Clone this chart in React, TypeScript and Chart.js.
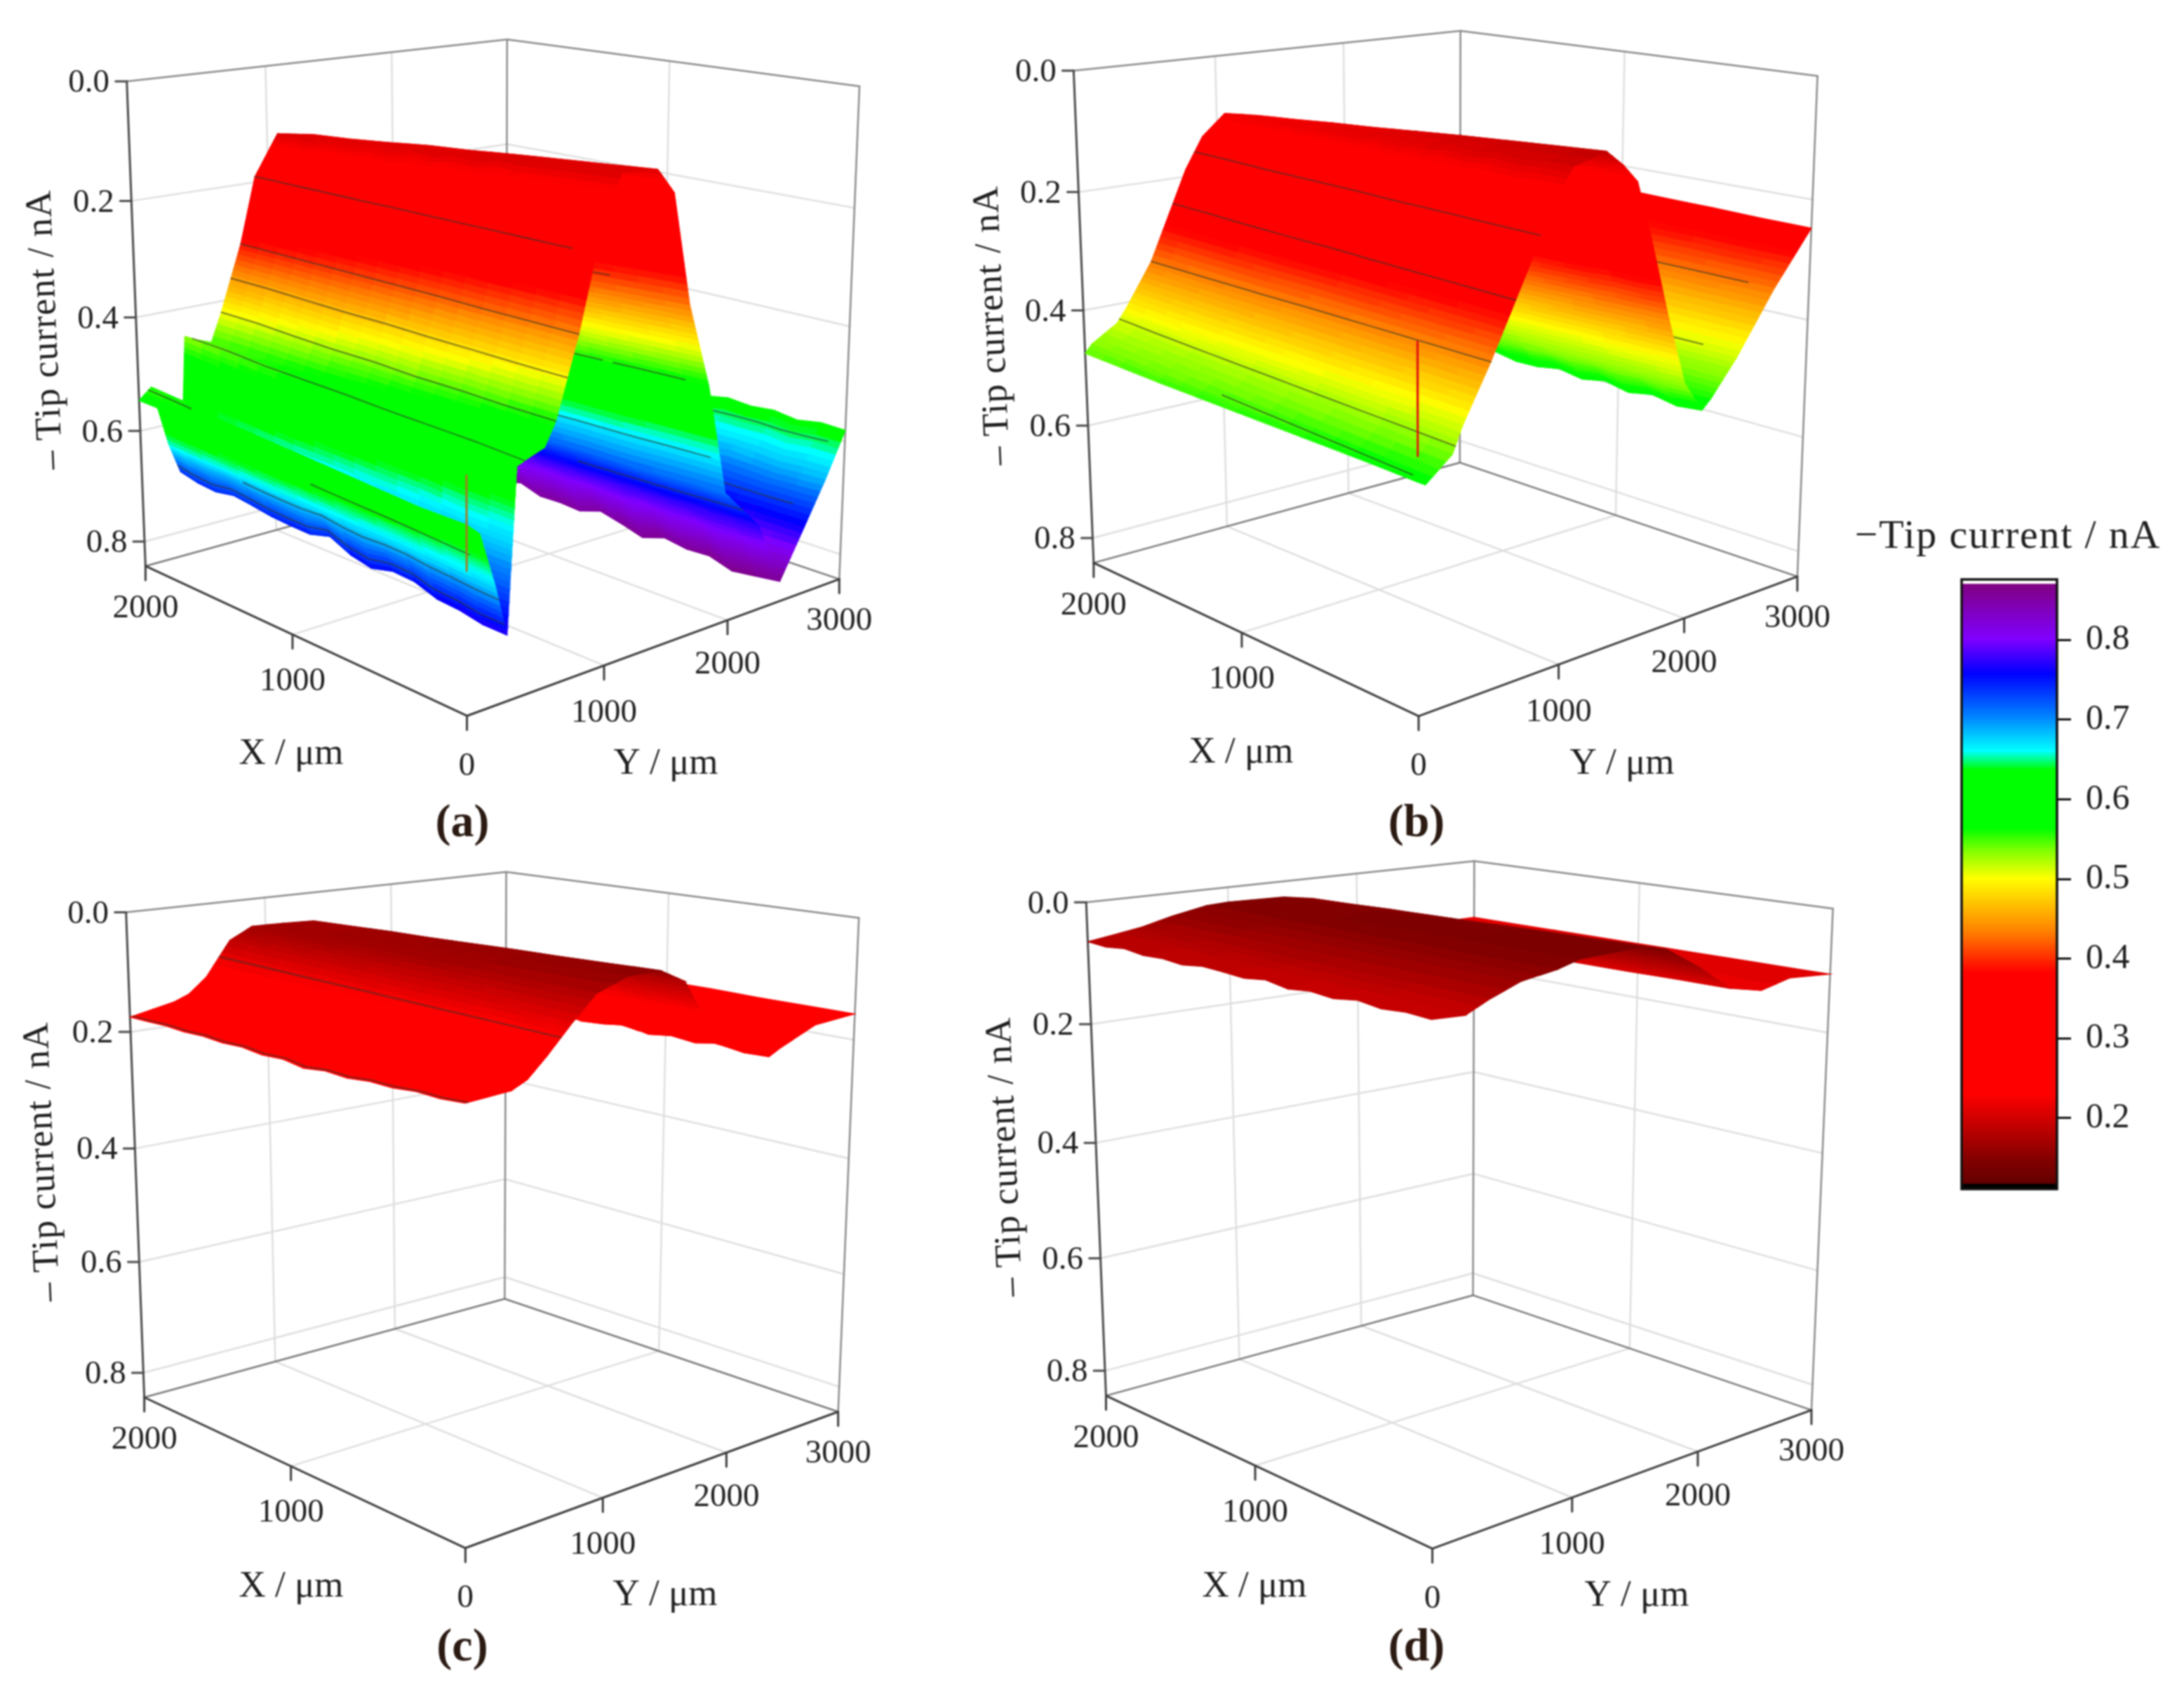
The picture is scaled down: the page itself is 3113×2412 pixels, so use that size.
import React, { useEffect, useRef } from "react";
import { Chart, registerables } from "chart.js";

Chart.register(...registerables);

// ---------- data ----------
const Z_MAX = 0.845;
const xRows = [0, 250, 500, 750, 1000, 1250, 1500, 1750, 2000];
const zTicks = [0, 0.2, 0.4, 0.6, 0.8];
const xTicks = [0, 1000, 2000];
const yTicks = [1000, 2000, 3000];
const colorTicks = [0.2, 0.3, 0.4, 0.5, 0.6, 0.7, 0.8];

const colorValues = [0.118, 0.145, 0.23, 0.382, 0.433, 0.5, 0.535, 0.563, 0.636, 0.66, 0.704, 0.757, 0.8, 0.87];
const colorRGB = [
  [100, 0, 0], [128, 0, 0], [255, 0, 0], [255, 0, 0], [255, 128, 0], [255, 255, 0], [128, 255, 0],
  [0, 255, 0], [0, 255, 0], [0, 255, 255], [0, 128, 255], [0, 0, 255], [128, 0, 255], [128, 0, 128],
];

const yColsA = [0, 90, 200, 280, 310, 345, 430, 540, 620, 780, 900, 1080, 1350, 1480, 1620, 1790, 1950, 2250, 2450, 2630, 2830, 3000];
const zRowsA = [
  [0.55, 0.57, 0.66, 0.74, 0.62, 0.483, 0.475, 0.466, 0.43, 0.306, 0.19, 0.075, 0.08, 0.12, 0.30, 0.438, 0.625, 0.70, 0.81, 0.738, 0.657, 0.58],
  [0.55, 0.565, 0.655, 0.735, 0.62, 0.48, 0.47, 0.466, 0.43, 0.306, 0.19, 0.08, 0.086, 0.126, 0.304, 0.44, 0.627, 0.703, 0.815, 0.738, 0.66, 0.582],
  [0.55, 0.56, 0.65, 0.715, 0.615, 0.475, 0.47, 0.468, 0.428, 0.306, 0.19, 0.086, 0.092, 0.132, 0.308, 0.443, 0.63, 0.705, 0.805, 0.742, 0.655, 0.58],
  [0.55, 0.555, 0.648, 0.72, 0.615, 0.47, 0.47, 0.468, 0.428, 0.305, 0.19, 0.09, 0.098, 0.138, 0.311, 0.446, 0.63, 0.708, 0.81, 0.74, 0.66, 0.585],
  [0.55, 0.55, 0.645, 0.70, 0.61, 0.47, 0.465, 0.468, 0.425, 0.305, 0.19, 0.098, 0.105, 0.145, 0.315, 0.45, 0.632, 0.71, 0.798, 0.738, 0.658, 0.587],
  [0.55, 0.545, 0.643, 0.71, 0.61, 0.465, 0.465, 0.47, 0.425, 0.305, 0.19, 0.105, 0.11, 0.15, 0.319, 0.452, 0.635, 0.712, 0.806, 0.742, 0.66, 0.585],
  [0.55, 0.54, 0.64, 0.695, 0.605, 0.46, 0.465, 0.47, 0.423, 0.305, 0.19, 0.11, 0.118, 0.157, 0.322, 0.455, 0.636, 0.715, 0.796, 0.74, 0.662, 0.588],
  [0.548, 0.532, 0.638, 0.70, 0.60, 0.455, 0.46, 0.47, 0.42, 0.305, 0.19, 0.115, 0.125, 0.164, 0.326, 0.457, 0.638, 0.718, 0.804, 0.74, 0.658, 0.59],
  [0.546, 0.527, 0.635, 0.69, 0.60, 0.45, 0.46, 0.47, 0.42, 0.305, 0.19, 0.12, 0.13, 0.17, 0.33, 0.46, 0.64, 0.72, 0.80, 0.74, 0.66, 0.59],
];
const colAdjA = [-0.05, -0.06, -0.065, -0.03, -0.02, 0, 0, 0, 0, 0, 0, 0, 0, 0, 0, 0, 0, 0, 0, -0.03, -0.05, -0.05];
const jagsA = [
  { col: 3, values: [0, 0.002, -0.003, 0.004, 0.001, -0.004, 0.003, 0.005, -0.002, 0.003, -0.003, 0.002, 0.004, -0.003, 0.001, 0.003, 0] },
  { col: 18, values: [0, 0.003, 0.006, -0.002, 0.005, -0.004, 0.007, 0.001, -0.003, 0.006, -0.001, 0.005, -0.003, 0.004, 0.002, -0.002, 0.003] },
  { col: 21, values: [0, -0.003, 0.003, -0.002, 0.003, -0.003, 0.002, -0.002, 0.002, 0, 0, 0, 0, 0, 0, 0, 0] },
  { col: 11, values: [0, 0, 0, 0, 0, -0.004, 0.003, -0.003, 0.002, -0.003, 0.003, -0.002, 0.002, 0, 0.003, -0.002, 0] },
];
const shiftZA = [0, 0.45, 0.65, 0.85];
const shiftNearA = [0.13, 0.13, 0.08, 0.04];
const shiftFarA = [0.09, 0.08, 0.085, 0.04];
const meshA = [
  { y: 900, from: 2000, to: 120 }, { y: 780, from: 2000, to: 0 }, { y: 700, from: 2000, to: 0 }, { y: 620, from: 2000, to: 0 },
  { y: 400, from: 2000, to: 0 }, { y: 150, from: 1000, to: 100 }, { y: 220, from: 1500, to: 0 }, { y: 70, from: 2000, to: 1700 },
  { y: 262, from: 2000, to: 0 }, { y: 1600, from: 900, to: 400 }, { y: 1790, from: 800, to: 560 }, { y: 1790, from: 500, to: 120 },
  { y: 1900, from: 900, to: 50 }, { y: 2100, from: 900, to: 0 }, { y: 2950, from: 800, to: 60 }, { y: 2720, from: 600, to: 100 }, { y: 2480, from: 400, to: 100 },
];
const spikesA = [{ X: 0, Y: 0, z0: 0.476, z1: 0.62, color: "#a87a20", width: 3 }];

const yColsB = [0, 50, 230, 300, 490, 760, 890, 1060, 1300, 1430, 1540, 1650, 1800, 1950, 2100, 2170, 2380, 2690, 3000];
const zRowsB = [
  [0.493, 0.50, 0.466, 0.427, 0.344, 0.213, 0.14, 0.08, 0.067, 0.092, 0.12, 0.205, 0.335, 0.452, 0.504, 0.49, 0.433, 0.333, 0.247],
  [0.49, 0.495, 0.462, 0.425, 0.343, 0.21, 0.14, 0.083, 0.072, 0.097, 0.124, 0.208, 0.337, 0.453, 0.505, 0.49, 0.433, 0.333, 0.246],
  [0.488, 0.49, 0.458, 0.424, 0.342, 0.207, 0.139, 0.085, 0.077, 0.10, 0.127, 0.212, 0.339, 0.454, 0.502, 0.494, 0.433, 0.332, 0.244],
  [0.486, 0.485, 0.454, 0.422, 0.341, 0.204, 0.139, 0.088, 0.082, 0.105, 0.13, 0.215, 0.341, 0.455, 0.506, 0.492, 0.432, 0.332, 0.243],
  [0.484, 0.48, 0.45, 0.42, 0.34, 0.20, 0.138, 0.09, 0.088, 0.11, 0.134, 0.218, 0.342, 0.456, 0.504, 0.496, 0.432, 0.332, 0.241],
  [0.482, 0.475, 0.446, 0.418, 0.34, 0.198, 0.137, 0.093, 0.094, 0.115, 0.138, 0.221, 0.344, 0.457, 0.508, 0.494, 0.431, 0.331, 0.24],
  [0.48, 0.47, 0.442, 0.416, 0.339, 0.195, 0.137, 0.095, 0.099, 0.12, 0.142, 0.224, 0.346, 0.458, 0.506, 0.498, 0.431, 0.331, 0.238],
  [0.477, 0.465, 0.438, 0.413, 0.338, 0.191, 0.136, 0.098, 0.105, 0.125, 0.146, 0.227, 0.348, 0.459, 0.51, 0.498, 0.43, 0.33, 0.237],
  [0.474, 0.46, 0.433, 0.41, 0.337, 0.188, 0.135, 0.10, 0.11, 0.13, 0.15, 0.23, 0.35, 0.46, 0.51, 0.50, 0.43, 0.33, 0.235],
];
const colAdjB: number[] = [];
const jagsB = [
  { col: 14, values: [0, 0.004, -0.004, 0.005, -0.002, 0.004, -0.005, 0.003, 0.005, -0.004, 0.002, 0.004, -0.003, 0.002, 0, 0, 0] },
  { col: 7, values: [0.002, 0, 0.003, -0.002, 0.002, -0.003, 0.002, 0.003, -0.002, 0.002, 0, -0.002, 0.002, 0, 0.002, -0.002, 0] },
  { col: 11, values: [0, 0.003, -0.003, 0.002, 0, 0, 0, 0, 0, 0, 0, 0, 0, 0, 0, 0, 0] },
];
const shiftZB = [0, 0.1, 0.42, 0.47, 0.85];
const shiftNearB = [0.12, 0.12, 0.085, 0.07, 0.07];
const shiftFarB = [0.12, 0.12, 0.085, 0.07, 0.07];
const meshB = [
  { y: 830, from: 2000, to: 0 }, { y: 660, from: 2000, to: 0 }, { y: 490, from: 2000, to: 0 }, { y: 250, from: 2000, to: 0 },
  { y: 70, from: 1150, to: 80 }, { y: 2690, from: 900, to: 130 }, { y: 2400, from: 850, to: 180 }, { y: 2190, from: 760, to: 620 }, { y: 2190, from: 540, to: 230 },
];
const spikesB = [{ X: 0, Y: 0, z0: 0.29, z1: 0.455, color: "#e01a10", width: 3 }];

const yColsC = [0, 310, 420, 550, 730, 900, 1130, 1370, 1560, 1700, 1950, 2260, 2350, 2650, 3000];
const zRowsC = [
  [0.18, 0.173, 0.163, 0.135, 0.092, 0.055, 0.037, 0.036, 0.058, 0.112, 0.17, 0.20, 0.19, 0.163, 0.157],
  [0.179, 0.175, 0.162, 0.134, 0.088, 0.054, 0.038, 0.038, 0.06, 0.113, 0.17, 0.197, 0.19, 0.163, 0.157],
  [0.179, 0.168, 0.16, 0.133, 0.085, 0.053, 0.04, 0.04, 0.061, 0.114, 0.169, 0.199, 0.189, 0.162, 0.157],
  [0.178, 0.172, 0.158, 0.132, 0.082, 0.052, 0.041, 0.041, 0.063, 0.115, 0.168, 0.197, 0.189, 0.162, 0.156],
  [0.178, 0.165, 0.156, 0.13, 0.079, 0.051, 0.043, 0.043, 0.064, 0.116, 0.168, 0.198, 0.188, 0.162, 0.156],
  [0.177, 0.167, 0.155, 0.129, 0.076, 0.05, 0.044, 0.045, 0.065, 0.117, 0.167, 0.196, 0.188, 0.161, 0.156],
  [0.177, 0.162, 0.153, 0.128, 0.073, 0.049, 0.045, 0.046, 0.067, 0.118, 0.166, 0.197, 0.187, 0.161, 0.155],
  [0.176, 0.163, 0.152, 0.126, 0.07, 0.048, 0.047, 0.048, 0.068, 0.119, 0.166, 0.196, 0.186, 0.16, 0.155],
  [0.175, 0.16, 0.15, 0.125, 0.067, 0.047, 0.048, 0.05, 0.07, 0.12, 0.165, 0.196, 0.186, 0.16, 0.155],
];
const colAdjC: number[] = [];
const jagsC = [
  { col: 0, values: [0, 0.003, 0.002, 0.005, 0.004, 0.008, 0.006, 0.01, 0.004, 0.006, 0.002, 0.003, 0, 0.001, -0.001, 0, 0] },
  { col: 11, values: [0, 0.003, -0.003, 0.003, -0.002, 0.004, -0.003, 0.002, 0.004, -0.003, 0.002, 0, 0, 0, 0, 0, 0] },
  { col: 1, values: [0.002, -0.002, 0.002, 0, 0.003, -0.001, 0.003, 0, 0.002, -0.002, 0.001, 0, 0.001, -0.001, 0, 0, 0] },
];
const shiftZC = [0, 0.85];
const shiftNearC = [0.12, 0.12];
const shiftFarC = [0.12, 0.12];
const meshC = [{ y: 650, from: 2000, to: 0 }, { y: 20, from: 2000, to: 0 }];
const spikesC: any[] = [];

const yColsD = [0, 220, 380, 590, 840, 1000, 1420, 1640, 1900, 2150, 2410, 2650, 3000];
const zRowsD = [
  [0.07, 0.072, 0.057, 0.039, 0.03, 0.02, 0.016, 0.025, 0.06, 0.10, 0.112, 0.10, 0.105],
  [0.069, 0.07, 0.056, 0.039, 0.03, 0.021, 0.017, 0.026, 0.061, 0.10, 0.112, 0.101, 0.105],
  [0.069, 0.068, 0.056, 0.039, 0.03, 0.021, 0.018, 0.027, 0.062, 0.101, 0.111, 0.102, 0.105],
  [0.068, 0.066, 0.055, 0.039, 0.029, 0.022, 0.02, 0.028, 0.063, 0.101, 0.112, 0.102, 0.105],
  [0.067, 0.064, 0.054, 0.039, 0.029, 0.022, 0.021, 0.03, 0.065, 0.101, 0.113, 0.103, 0.105],
  [0.067, 0.062, 0.053, 0.038, 0.028, 0.023, 0.023, 0.031, 0.066, 0.102, 0.112, 0.103, 0.105],
  [0.066, 0.06, 0.052, 0.038, 0.028, 0.024, 0.024, 0.032, 0.067, 0.102, 0.113, 0.104, 0.105],
  [0.065, 0.058, 0.051, 0.038, 0.027, 0.024, 0.026, 0.034, 0.069, 0.102, 0.113, 0.105, 0.105],
  [0.064, 0.056, 0.05, 0.038, 0.027, 0.025, 0.027, 0.035, 0.07, 0.102, 0.113, 0.105, 0.105],
];
const colAdjD = [0, 0, 0, 0, 0, 0, 0, 0, -0.01, -0.015, -0.015, -0.015, -0.015];
const jagsD = [
  { col: 0, values: [0.002, 0, 0.003, -0.002, 0.003, 0, 0.004, -0.002, 0.003, 0, -0.002, 0.003, 0, 0.002, -0.002, 0.002, 0] },
  { col: 1, values: [0.002, -0.001, 0.002, 0.001, -0.001, 0.002, -0.001, 0.002, 0, 0.002, -0.001, 0.002, 0, 0.002, -0.001, 0.002, 0] },
  { col: 10, values: [0, 0.003, -0.002, 0.003, 0, -0.002, 0.003, 0, -0.002, 0.002, 0, 0, 0, 0, 0, 0, 0] },
];
const shiftZD = [0, 0.85];
const shiftNearD = [0.122, 0.122];
const shiftFarD = [0.122, 0.122];
const meshD: any[] = [];
const spikesD: any[] = [];

// ---------- layout ----------
const FONT = "'Liberation Serif', serif";
const cubeCorners = [
  [2000, 0, 0], [2000, 3000, 0], [0, 3000, 0],
  [2000, 0, Z_MAX], [2000, 3000, Z_MAX], [0, 3000, Z_MAX], [0, 0, Z_MAX],
];

const panels = [
  {
    name: "(a)", box: [0, 0, 1360, 1210],
    corners: [[180.7, 116.2], [722.9, 56], [1225, 123], [207.3, 806.4], [721.2, 665.6], [1196.2, 825.2], [665.7, 1020.9]],
    ys: yColsA, zs: zRowsA, colAdj: colAdjA, jags: jagsA, shiftZ: shiftZA, shiftNear: shiftNearA, shiftFar: shiftFarA, mesh: meshA, spikes: spikesA,
    zLabel: [66, 470], xLabel: [415, 1075], yLabel: [949, 1089], tag: [659, 1175],
  },
  {
    name: "(b)", box: [1360, 0, 1300, 1210],
    corners: [[1530.7, 100.4], [2081, 44], [2591, 108.7], [1559, 802.6], [2081, 659.6], [2562, 821.4], [2021.5, 1020.9]],
    ys: yColsB, zs: zRowsB, colAdj: colAdjB, jags: jagsB, shiftZ: shiftZB, shiftNear: shiftNearB, shiftFar: shiftFarB, mesh: meshB, spikes: spikesB,
    zLabel: [1416, 464], xLabel: [1769, 1073], yLabel: [2312, 1089], tag: [2019, 1175],
  },
  {
    name: "(c)", box: [0, 1210, 1360, 1202],
    corners: [[179.9, 1300.5], [721.2, 1242.6], [1224.4, 1308.8], [205.6, 1991.4], [719.6, 1852.2], [1194.6, 2011.7], [663.2, 2207.4]],
    ys: yColsC, zs: zRowsC, colAdj: colAdjC, jags: jagsC, shiftZ: shiftZC, shiftNear: shiftNearC, shiftFar: shiftFarC, mesh: meshC, spikes: spikesC,
    zLabel: [62, 1656], xLabel: [415, 2262], yLabel: [948, 2274], tag: [659, 2350],
  },
  {
    name: "(d)", box: [1360, 1210, 1340, 1202],
    corners: [[1548.3, 1286.2], [2101.2, 1227.5], [2612.7, 1295.3], [1576.5, 1989.9], [2099.6, 1846.2], [2582, 2010.2], [2041.5, 2207.4]],
    ys: yColsD, zs: zRowsD, colAdj: colAdjD, jags: jagsD, shiftZ: shiftZD, shiftNear: shiftNearD, shiftFar: shiftFarD, mesh: meshD, spikes: spikesD,
    zLabel: [1434, 1649], xLabel: [1788, 2262], yLabel: [2333, 2275], tag: [2019, 2350],
  },
];

// ---------- helpers ----------
function interp(xs: number[], vs: number[], x: number) {
  if (x <= xs[0]) return vs[0];
  for (let i = 1; i < xs.length; i++) {
    if (x <= xs[i]) {
      const t = (x - xs[i - 1]) / (xs[i] - xs[i - 1]);
      return vs[i - 1] + (vs[i] - vs[i - 1]) * t;
    }
  }
  return vs[vs.length - 1];
}

function colorOf(v: number) {
  const ch = (i: number) => Math.round(interp(colorValues, colorRGB.map((c) => c[i]), v));
  return `rgb(${ch(0)},${ch(1)},${ch(2)})`;
}

function solve(A: number[][], b: number[]) {
  const n = b.length;
  const M = A.map((r, i) => [...r, b[i]]);
  for (let c = 0; c < n; c++) {
    let p = c;
    for (let r = c + 1; r < n; r++) if (Math.abs(M[r][c]) > Math.abs(M[p][c])) p = r;
    [M[c], M[p]] = [M[p], M[c]];
    for (let r = 0; r < n; r++) {
      if (r === c) continue;
      const f = M[r][c] / M[c][c];
      for (let k = c; k <= n; k++) M[r][k] -= f * M[c][k];
    }
  }
  return M.map((r, i) => r[n] / r[i]);
}

function makeProjection(corners: number[][]) {
  const rows: number[][] = [];
  const rhs: number[] = [];
  cubeCorners.forEach((w, i) => {
    const u = w[0] / 2000, v = w[1] / 3000, s = w[2] / Z_MAX;
    const px = corners[i][0] / 1000, py = corners[i][1] / 1000;
    rows.push([u, v, s, 1, 0, 0, 0, 0, -px * u, -px * v, -px * s]); rhs.push(px);
    rows.push([0, 0, 0, 0, u, v, s, 1, -py * u, -py * v, -py * s]); rhs.push(py);
  });
  const ATA = Array.from({ length: 11 }, (_, i) => Array.from({ length: 11 }, (_, j) => rows.reduce((a, r) => a + r[i] * r[j], 0)));
  const ATb = Array.from({ length: 11 }, (_, i) => rows.reduce((a, r, k) => a + r[i] * rhs[k], 0));
  const P = solve(ATA, ATb);
  return (X: number, Y: number, Z: number) => {
    const u = X / 2000, v = Y / 3000, s = Z / Z_MAX;
    const d = P[8] * u + P[9] * v + P[10] * s + 1;
    return {
      x: (1000 * (P[0] * u + P[1] * v + P[2] * s + P[3])) / d,
      y: (1000 * (P[4] * u + P[5] * v + P[6] * s + P[7])) / d,
    };
  };
}

function lineSet(pts: { x: number; y: number }[], color: string, width: number) {
  return { data: pts, showLine: true, borderColor: color, borderWidth: width, pointRadius: 0, fill: false, clip: false, tension: 0, borderCapStyle: "round" };
}

function buildPanelDatasets(p: any) {
  const proj = makeProjection(p.corners);
  const ds: any[] = [];
  const GRID = "#dedede", EDGE = "#8a8a8a", BACK = "#7a7a7a", AXIS = "#3d3d3d";
  const seg = (a: number[], b: number[], c: string, w: number) =>
    ds.push(lineSet([proj(a[0], a[1], a[2]), proj(b[0], b[1], b[2])], c, w));

  // wall and floor grids
  zTicks.slice(1).forEach((z) => {
    seg([2000, 0, z], [2000, 3000, z], GRID, 2.5);
    seg([2000, 3000, z], [0, 3000, z], GRID, 2.5);
  });
  [1000, 2000].forEach((y) => {
    seg([2000, y, 0], [2000, y, Z_MAX], GRID, 2.5);
    seg([0, y, Z_MAX], [2000, y, Z_MAX], GRID, 2.5);
  });
  seg([1000, 3000, 0], [1000, 3000, Z_MAX], GRID, 2.5);
  seg([1000, 0, Z_MAX], [1000, 3000, Z_MAX], GRID, 2.5);

  // box edges
  seg([2000, 0, 0], [2000, 3000, 0], EDGE, 2.5);
  seg([2000, 3000, 0], [0, 3000, 0], EDGE, 2.5);
  seg([2000, 3000, 0], [2000, 3000, Z_MAX], EDGE, 2.5);
  seg([0, 3000, 0], [0, 3000, Z_MAX], EDGE, 2.5);
  seg([2000, 0, Z_MAX], [2000, 3000, Z_MAX], BACK, 2.5);
  seg([2000, 3000, Z_MAX], [0, 3000, Z_MAX], BACK, 2.5);
  seg([2000, 0, 0], [2000, 0, Z_MAX], "#4a4a4a", 3);
  seg([0, 0, Z_MAX], [2000, 0, Z_MAX], AXIS, 3);
  seg([0, 0, Z_MAX], [0, 3000, Z_MAX], AXIS, 3);

  // tick marks
  zTicks.forEach((z) => {
    const a = proj(2000, 0, z);
    ds.push(lineSet([a, { x: a.x - 16, y: a.y }], "#4a4a4a", 3));
  });
  xTicks.forEach((x) => {
    const a = proj(x, 0, Z_MAX);
    ds.push(lineSet([a, { x: a.x, y: a.y + 20 }], AXIS, 3));
  });
  yTicks.forEach((y) => {
    const a = proj(0, y, Z_MAX);
    ds.push(lineSet([a, { x: a.x, y: a.y + 20 }], AXIS, 3));
  });

  // surface: strips far to near, X far to near
  const ys: number[] = p.ys;
  const zs: number[][] = p.zs;
  const columns = ys.map((_, c) => zs.map((r) => r[c]));
  const jagByCol: Record<number, number[]> = {};
  p.jags.forEach((j: any) => { jagByCol[j.col] = j.values; });
  const jagX = Array.from({ length: 17 }, (_, i) => i * 125);
  const colZ = (c: number, X: number) => interp(xRows, columns[c], X) + (jagByCol[c] ? interp(jagX, jagByCol[c], X) : 0);
  const locate = (Y: number) => {
    let c = 0;
    while (c < ys.length - 2 && Y > ys[c + 1]) c++;
    return [c, (Y - ys[c]) / (ys[c + 1] - ys[c])];
  };
  const zAt = (X: number, Y: number) => {
    const [c, t] = locate(Y);
    return colZ(c, X) * (1 - t) + colZ(c + 1, X) * t;
  };
  const adjAt = (Y: number) => (p.colAdj.length ? interp(ys, p.colAdj, Y) : 0);
  const colorVal = (X: number, Y: number, z: number) => {
    const near = interp(p.shiftZ, p.shiftNear, z);
    const far = interp(p.shiftZ, p.shiftFar, z);
    const v = z + near + ((far - near) * X) / 2000 + adjAt(Y);
    return Math.round(v / 0.003) * 0.003;
  };
  const mesh = [...p.mesh].sort((a: any, b: any) => b.y - a.y);
  let mi = 0;
  const emitMesh = (m: any) => {
    const pts = [];
    const n = Math.max(2, Math.ceil(Math.abs(m.from - m.to) / 125));
    for (let i = 0; i <= n; i++) {
      const X = m.from + ((m.to - m.from) * i) / n;
      pts.push(proj(X, m.y, zAt(X, m.y)));
    }
    ds.push(lineSet(pts, "rgba(50,55,45,0.7)", 1.8));
  };
  const STEP = 125;
  for (let c = ys.length - 2; c >= 0; c--) {
    let maxDz = 0;
    zs.forEach((r) => { maxDz = Math.max(maxDz, Math.abs(r[c + 1] - r[c])); });
    const n = Math.min(16, Math.max(1, Math.ceil(maxDz / 0.01)));
    for (let k = n - 1; k >= 0; k--) {
      const ya = ys[c] + ((ys[c + 1] - ys[c]) * k) / n;
      const yb = ys[c] + ((ys[c + 1] - ys[c]) * (k + 1)) / n;
      const ym = (ya + yb) / 2;
      let X = 2000;
      while (X > 0) {
        const startX = X;
        const zMid = (zAt(X - STEP / 2, ya) + zAt(X - STEP / 2, yb)) / 2;
        const cv = colorVal(X - STEP / 2, ym, zMid);
        X -= STEP;
        while (X > 0) {
          const zNext = (zAt(X - STEP / 2, ya) + zAt(X - STEP / 2, yb)) / 2;
          if (Math.abs(colorVal(X - STEP / 2, ym, zNext) - cv) > 1e-6) break;
          X -= STEP;
        }
        const low = [], high = [];
        for (let q = startX; q >= X; q -= STEP) {
          low.push(proj(q, ya, zAt(q, ya)));
          high.unshift(proj(q, yb, zAt(q, yb)));
        }
        const poly = [...low, ...high];
        poly.push(poly[0]);
        const color = colorOf(cv);
        ds.push({ ...lineSet(poly, color, 1.2), polygonColor: color });
      }
      while (mi < mesh.length && mesh[mi].y >= yb) emitMesh(mesh[mi++]);
    }
  }
  while (mi < mesh.length) emitMesh(mesh[mi++]);

  p.spikes.forEach((s: any) => {
    ds.push(lineSet([proj(s.X, s.Y, s.z0), proj(s.X, s.Y, s.z1)], s.color, s.width));
  });

  // text positions follow the projected ticks
  const texts: any[] = [];
  const tickFont = `47px ${FONT}`;
  zTicks.forEach((z) => {
    const a = proj(2000, 0, z);
    texts.push({ text: z.toFixed(1), x: a.x - 54, y: a.y + 3, font: tickFont });
  });
  xTicks.forEach((x) => {
    const a = proj(x, 0, Z_MAX);
    const dy = x === 0 ? 72 : x === 1000 ? 67 : 61;
    texts.push({ text: String(x), x: a.x, y: a.y + dy, font: tickFont });
  });
  yTicks.forEach((y) => {
    const a = proj(0, y, Z_MAX);
    const dy = y === 1000 ? 68 : y === 2000 ? 64 : 60;
    texts.push({ text: String(y), x: a.x, y: a.y + dy, font: tickFont });
  });
  const labelFont = `53px ${FONT}`;
  texts.push({ text: "X / μm", x: p.xLabel[0], y: p.xLabel[1], font: labelFont });
  texts.push({ text: "Y / μm", x: p.yLabel[0], y: p.yLabel[1], font: labelFont });
  texts.push({ text: "– Tip current / nA", x: p.zLabel[0], y: p.zLabel[1], font: labelFont, rot: (-92.5 * Math.PI) / 180, spacing: 1 });
  texts.push({ text: p.name, x: p.tag[0], y: p.tag[1], font: `bold 66px ${FONT}`, color: "#2a1a12" });

  return { datasets: ds.reverse(), texts };
}

const polygonFill = {
  id: "polygonFill",
  beforeDatasetDraw(chart: any, args: any) {
    const color = chart.data.datasets[args.index].polygonColor;
    if (!color) return;
    const ctx = chart.ctx;
    ctx.save();
    ctx.beginPath();
    args.meta.data.forEach((pt: any, i: number) => (i ? ctx.lineTo(pt.x, pt.y) : ctx.moveTo(pt.x, pt.y)));
    ctx.closePath();
    ctx.fillStyle = color;
    ctx.fill();
    ctx.restore();
  },
};

const textPlugin = (texts: any[]) => ({
  id: "plainText",
  afterDraw(chart: any) {
    const { ctx, scales } = chart;
    texts.forEach((t) => {
      ctx.save();
      ctx.translate(scales.x.getPixelForValue(t.x), scales.y.getPixelForValue(t.y));
      if (t.rot) ctx.rotate(t.rot);
      ctx.font = t.font;
      ctx.fillStyle = t.color || "#1f1f1f";
      ctx.textAlign = "center";
      ctx.textBaseline = "middle";
      if (t.spacing) ctx.letterSpacing = `${t.spacing}px`;
      ctx.fillText(t.text, 0, 0);
      ctx.restore();
    });
  },
});

function Panel({ p }: { p: any }) {
  const ref = useRef<HTMLCanvasElement>(null);
  const [left, top, width, height] = p.box;
  useEffect(() => {
    const { datasets, texts } = buildPanelDatasets(p);
    const chart = new Chart(ref.current as any, {
      type: "scatter",
      data: { datasets },
      options: {
        animation: false,
        responsive: false,
        devicePixelRatio: 1,
        parsing: false,
        normalized: true,
        events: [],
        layout: { padding: 0 },
        plugins: { legend: { display: false }, tooltip: { enabled: false } },
        scales: {
          x: { type: "linear", min: left, max: left + width, display: false },
          y: { type: "linear", min: top, max: top + height, reverse: true, display: false },
        },
      } as any,
      plugins: [polygonFill, textPlugin(texts)] as any,
    });
    return () => chart.destroy();
  }, []);
  return <canvas ref={ref} width={width} height={height} style={{ position: "absolute", left, top, width, height, display: "block", filter: "blur(0.8px)" }} />;
}

const BAR_BOX = [2640, 720, 473, 1026];
const barEdges: number[] = [];
for (let v = 0.118; v < 0.87; v += 0.004) barEdges.push(v);

function ColorBar() {
  const ref = useRef<HTMLCanvasElement>(null);
  const [left, top, width, height] = BAR_BOX;
  useEffect(() => {
    const datasets: any[] = barEdges.map((v) => ({
      data: [[v, Math.min(0.87, v + 0.0045)]],
      backgroundColor: colorOf(v + 0.002),
      grouped: false,
      barPercentage: 1,
      categoryPercentage: 1,
      borderWidth: 0,
    }));
    datasets.push({ data: [[0.111, 0.118]], backgroundColor: "#000", grouped: false, barPercentage: 1, categoryPercentage: 1, borderWidth: 0 });
    const frame = {
      id: "frame",
      afterDraw(chart: any) {
        const { ctx, chartArea: a } = chart;
        ctx.save();
        ctx.strokeStyle = "#111";
        ctx.lineWidth = 3.5;
        ctx.strokeRect(a.left, a.top, a.right - a.left, a.bottom - a.top);
        ctx.font = `58px ${FONT}`;
        ctx.letterSpacing = "1.8px";
        ctx.fillStyle = "#1f1f1f";
        ctx.textAlign = "center";
        ctx.textBaseline = "middle";
        ctx.fillText("−Tip current / nA", 2862 - left, 766 - top);
        ctx.restore();
      },
    };
    const chart = new Chart(ref.current as any, {
      type: "bar",
      data: { labels: ["−Tip current / nA"], datasets },
      options: {
        animation: false,
        responsive: false,
        devicePixelRatio: 1,
        events: [],
        layout: { padding: { left: 2796 - left, top: 826 - top, bottom: 17, right: 3113 - 2932 - 105 } },
        plugins: { legend: { display: false }, tooltip: { enabled: false } },
        scales: {
          x: { display: false },
          y: {
            position: "right",
            min: 0.111,
            max: 0.8758,
            afterBuildTicks: (s: any) => { s.ticks = colorTicks.map((value) => ({ value })); },
            afterFit: (s: any) => { s.width = 105; },
            grid: { drawOnChartArea: false, tickLength: 20, tickWidth: 3, tickColor: "#111" },
            border: { display: false },
            ticks: { padding: 21, color: "#1f1f1f", font: { family: "Liberation Serif", size: 50 }, callback: (v: any) => Number(v).toFixed(1) },
          },
        },
      } as any,
      plugins: [frame] as any,
    });
    return () => chart.destroy();
  }, []);
  return <canvas ref={ref} width={width} height={height} style={{ position: "absolute", left, top, width, height, display: "block", filter: "blur(0.8px)" }} />;
}

export default function App() {
  return (
    <div style={{ position: "absolute", left: 0, top: 0, width: 3113, height: 2412, background: "#fff", overflow: "hidden" }}>
      {panels.map((p) => <Panel key={p.name} p={p} />)}
      <ColorBar />
    </div>
  );
}
